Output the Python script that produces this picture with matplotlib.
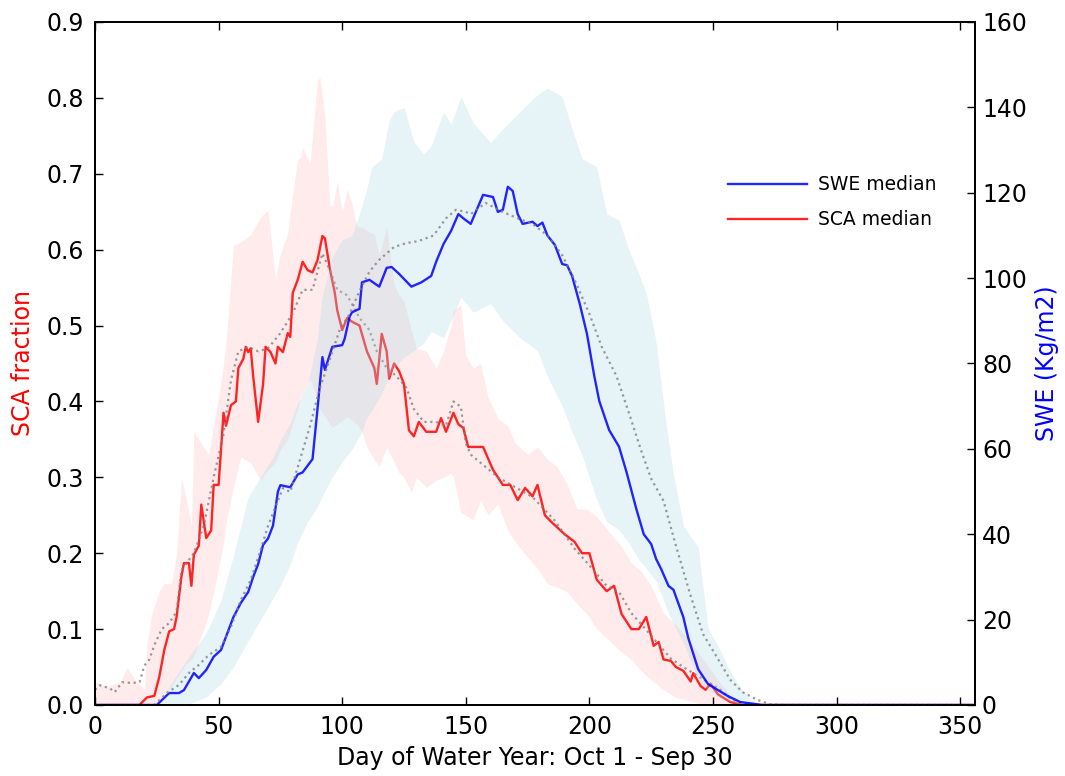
import numpy as np
import matplotlib
matplotlib.use('Agg')
import matplotlib.pyplot as plt


# SCA median (left axis)
sca_days = [0, 18, 21, 24, 26, 28, 30, 32, 33, 35,
            36, 38, 39, 40, 42, 43, 45, 47, 48, 50,
            52, 53, 55, 57, 58, 60, 61, 62, 63, 64,
            66, 68, 69, 71, 73, 74, 76, 78, 79, 80,
            82, 84, 86, 88, 90, 92, 93, 95, 97, 98,
            100, 102, 104, 107, 110, 113, 114, 116, 118, 119,
            121, 123, 125, 127, 129, 131, 134, 138, 140, 142,
            145, 147, 149, 151, 154, 157, 161, 165, 168, 171,
            174, 177, 179, 182, 185, 190, 194, 197, 200, 203,
            207, 210, 213, 217, 220, 223, 226, 228, 230, 233,
            235, 238, 241, 242, 245, 247, 249, 252, 257, 262,
            356]
sca_median = [0, 0, 0.01, 0.012, 0.037, 0.072, 0.097, 0.10, 0.116, 0.17,
              0.187, 0.187, 0.157, 0.198, 0.21, 0.264, 0.22, 0.23, 0.29, 0.29,
              0.385, 0.368, 0.395, 0.40, 0.444, 0.456, 0.472, 0.465, 0.47, 0.433,
              0.373, 0.423, 0.472, 0.465, 0.45, 0.472, 0.465, 0.49, 0.485, 0.543,
              0.56, 0.584, 0.573, 0.57, 0.586, 0.618, 0.615, 0.575, 0.543, 0.52,
              0.494, 0.51, 0.505, 0.50, 0.466, 0.444, 0.423, 0.489, 0.466, 0.43,
              0.45, 0.44, 0.423, 0.362, 0.354, 0.373, 0.36, 0.36, 0.378, 0.36,
              0.385, 0.37, 0.365, 0.34, 0.34, 0.34, 0.31, 0.29, 0.29, 0.27,
              0.286, 0.275, 0.29, 0.25, 0.24, 0.225, 0.215, 0.20, 0.20, 0.165,
              0.15, 0.157, 0.12, 0.10, 0.10, 0.116, 0.078, 0.083, 0.06, 0.058,
              0.05, 0.045, 0.031, 0.042, 0.025, 0.02, 0.028, 0.014, 0.004, 0,
              0]

# SCA mean (dotted)
sca_mean_days = [0, 2, 6, 8, 11, 15, 18, 20, 22, 24,
                 27, 30, 33, 35, 37, 40, 44, 48, 52, 55,
                 58, 62, 66, 70, 75, 80, 84, 88, 92, 95,
                 98, 102, 107, 111, 114, 118, 122, 126, 129, 133,
                 138, 142, 145, 148, 150, 152, 163, 177, 186, 194,
                 200, 207, 212, 217, 223, 233, 238, 242, 248, 253,
                 258, 265, 356]
sca_mean = [0.02, 0.026, 0.022, 0.017, 0.03, 0.029, 0.03, 0.052, 0.06, 0.079,
            0.10, 0.108, 0.123, 0.178, 0.187, 0.20, 0.236, 0.30, 0.357, 0.428,
            0.466, 0.472, 0.466, 0.47, 0.49, 0.516, 0.547, 0.547, 0.595, 0.573,
            0.547, 0.54, 0.51, 0.494, 0.466, 0.444, 0.433, 0.418, 0.39, 0.373,
            0.373, 0.368, 0.40, 0.393, 0.345, 0.33, 0.30, 0.274, 0.243, 0.206,
            0.184, 0.157, 0.149, 0.121, 0.099, 0.061, 0.05, 0.042, 0.03, 0.02,
            0.006, 0, 0]

# SCA spread (shaded)
sca_band_days = [0, 5, 10, 13, 17, 20, 21, 23, 26, 28,
                 31, 33, 35, 37, 39, 40, 44, 46, 48, 50,
                 52, 53, 56, 59, 63, 67, 70, 73, 75, 78,
                 79, 82, 83, 84, 87, 90, 91, 93, 95, 96,
                 98, 100, 102, 104, 106, 108, 110, 113, 115, 118,
                 121, 123, 125, 128, 130, 134, 138, 141, 144, 145,
                 148, 150, 153, 156, 159, 163, 167, 170, 175, 179,
                 183, 187, 191, 195, 199, 203, 208, 213, 217, 221,
                 225, 230, 235, 241, 246, 252, 257, 262, 356]
sca_upper = [0.03, 0.025, 0.03, 0.049, 0.03, 0.02, 0.08, 0.12, 0.15, 0.16,
             0.16, 0.20, 0.30, 0.27, 0.236, 0.36, 0.34, 0.33, 0.37, 0.405,
             0.45, 0.477, 0.606, 0.61, 0.62, 0.643, 0.652, 0.56, 0.595, 0.622,
             0.65, 0.72, 0.72, 0.735, 0.714, 0.823, 0.827, 0.775, 0.66, 0.656,
             0.69, 0.65, 0.68, 0.66, 0.63, 0.63, 0.625, 0.62, 0.593, 0.63,
             0.553, 0.54, 0.532, 0.494, 0.47, 0.466, 0.444, 0.466, 0.50, 0.52,
             0.527, 0.46, 0.444, 0.45, 0.405, 0.378, 0.368, 0.345, 0.33, 0.34,
             0.324, 0.314, 0.291, 0.258, 0.258, 0.248, 0.228, 0.209, 0.187, 0.176,
             0.157, 0.121, 0.105, 0.083, 0.06, 0.033, 0.012, 0, 0]
sca_lower = [0, 0, 0, 0, 0, 0, 0, 0, 0.005, 0.015,
             0.025, 0.035, 0.045, 0.055, 0.06, 0.065, 0.10, 0.12, 0.148, 0.18,
             0.213, 0.24, 0.287, 0.327, 0.319, 0.296, 0.31, 0.32, 0.336, 0.35,
             0.362, 0.39, 0.406, 0.41, 0.43, 0.40, 0.39, 0.38, 0.37, 0.366,
             0.37, 0.375, 0.38, 0.375, 0.37, 0.36, 0.34, 0.323, 0.314, 0.34,
             0.32, 0.306, 0.30, 0.28, 0.30, 0.287, 0.296, 0.30, 0.306, 0.30,
             0.253, 0.25, 0.244, 0.27, 0.25, 0.265, 0.23, 0.215, 0.195, 0.18,
             0.16, 0.155, 0.149, 0.133, 0.12, 0.10, 0.085, 0.07, 0.06, 0.045,
             0.033, 0.02, 0.01, 0.005, 0, 0, 0, 0, 0]

# SWE median (right axis, Kg/m2)
swe_days = [0, 25, 30, 34, 36, 40, 42, 45, 48, 51,
            53, 56, 59, 62, 64, 66, 68, 70, 72, 74,
            75, 79, 82, 84, 88, 90, 92, 93, 96, 100,
            101, 103, 104, 107, 108, 111, 115, 118, 120, 123,
            128, 132, 136, 138, 141, 144, 147, 149, 152, 157,
            161, 163, 165, 167, 169, 171, 173, 177, 179, 181,
            183, 186, 189, 191, 193, 196, 199, 202, 204, 208,
            212, 215, 219, 222, 225, 227, 229, 232, 234, 238,
            240, 244, 248, 252, 256, 261, 270, 356]
swe_median = [0, 0, 2.8, 2.8, 3.5, 7.5, 6.3, 8.2, 11.3, 12.9,
              16, 20.6, 23.9, 26.5, 30, 33, 37.5, 39, 42, 50,
              51.5, 51, 54, 54.5, 57.6, 69.3, 81.5, 78.5, 83.9, 84.3,
              85.8, 91, 92, 92.8, 99, 99.6, 98, 102.4, 102.6, 101,
              98, 99, 100.5, 103.8, 108, 111, 115, 114, 112.7, 119.5,
              119, 115.5, 116, 121.4, 120.4, 115, 112.7, 113.2, 112.2, 113,
              110, 107.8, 103.3, 103, 100.5, 94.2, 87, 77, 71.2, 64.4,
              60.5, 54.6, 45.9, 40, 37.7, 34.2, 31.9, 27.9, 27, 20.6,
              15.7, 8.4, 4.9, 3.5, 2.1, 0.7, 0, 0]

# SWE mean (dotted)
swe_mean_days = [0, 24, 29, 34, 38, 42, 46, 51, 55, 59,
                 63, 67, 70, 76, 79, 83, 87, 91, 95, 99,
                 103, 107, 111, 115, 121, 126, 131, 137, 142, 146,
                 150, 152, 158, 165, 171, 177, 183, 189, 194, 200,
                 205, 211, 216, 221, 225, 230, 235, 241, 246, 252,
                 257, 262, 268, 273, 280, 356]
swe_mean = [0, 0, 2.8, 4.7, 7.5, 9.4, 11.7, 13.6, 18.3, 24.6,
            29.3, 36.3, 42, 50.8, 49.9, 57.6, 65.4, 74.3, 81, 87.9,
            91.6, 97, 101.5, 104.3, 107.3, 108.2, 108.7, 110, 114, 116,
            115.5, 115, 117.6, 115.5, 114, 112.7, 110, 105.4, 99.6, 91.6,
            83.9, 77, 68.4, 59.5, 53, 47.8, 37.3, 25.5, 16.6, 10.8,
            5.9, 3, 1.2, 0.2, 0, 0]

# SWE spread (shaded)
swe_band_days = [0, 25, 29, 37, 45, 51, 56, 59, 62, 67,
                 72, 75, 79, 82, 86, 90, 92, 96, 100, 104,
                 108, 110, 112, 116, 119, 121, 125, 129, 133, 136,
                 141, 144, 148, 153, 160, 165, 172, 179, 183, 189,
                 193, 197, 203, 207, 212, 216, 220, 223, 227, 231,
                 234, 238, 244, 248, 252, 256, 260, 265, 270, 356]
swe_upper = [0, 0, 3.5, 10.5, 16.9, 24.6, 35, 42, 48.7, 53.4,
             58, 62, 66, 70.7, 75, 86, 96, 105, 109, 110,
             117, 121, 126, 128, 137, 139, 140, 132, 129, 131,
             139, 136, 142.5, 136.4, 131.7, 135, 139, 143, 144.5, 142.5,
             135, 128, 126, 115, 113.6, 106.6, 101, 96.5, 85, 66,
             54, 42, 37, 18, 13.8, 9, 5, 1.2, 0, 0]
swe_lower = [0, 0, 0, 0, 1.9, 5, 8.9, 12, 15, 20,
             25, 28, 33, 38, 43, 46.4, 49, 53.4, 57, 60,
             64, 67.5, 69, 73, 77, 79, 81.5, 83, 84.8, 87.5,
             86, 90, 95.6, 92, 94, 90, 86, 83, 77, 70,
             64, 58.6, 48, 43, 41, 38, 34, 32, 29, 23,
             19, 14.5, 6, 3.5, 2, 1, 0.3, 0, 0, 0]


plt.rcParams['font.family'] = 'DejaVu Sans'

fig = plt.figure(figsize=(10.65, 7.76), dpi=100)
ax = fig.add_axes([0.0892, 0.0915, 0.8263, 0.8802])
ax2 = ax.twinx()

# snow covered area on the left axis
ax.fill_between(sca_band_days, sca_lower, sca_upper, color='red', alpha=0.08, linewidth=0)
sca_line, = ax.plot(sca_days, sca_median, color='red', alpha=0.85, linewidth=1.7, label='SCA median')
ax.plot(sca_mean_days, sca_mean, color='gray', linestyle=':', linewidth=1.6, alpha=0.8)

# snow water equivalent on the right axis
ax2.fill_between(swe_band_days, swe_lower, swe_upper, color='lightblue', alpha=0.3, linewidth=0)
swe_line, = ax2.plot(swe_days, swe_median, color='blue', alpha=0.85, linewidth=1.7, label='SWE median')
ax2.plot(swe_mean_days, swe_mean, color='gray', linestyle=':', linewidth=1.6, alpha=0.8)

ax.set_xlim(0, 356)
ax.set_ylim(0, 0.9)
ax2.set_ylim(0, 160)
ax.set_xticks(np.arange(0, 351, 50))
ax.set_yticks(np.arange(0, 0.91, 0.1))
ax.set_yticklabels(['%.1f' % v for v in np.arange(0, 0.91, 0.1)])
ax2.set_yticks(np.arange(0, 161, 20))

ax.tick_params(axis='x', direction='in', top=True, length=5.5, width=1, labelsize=17, pad=7)
ax.tick_params(axis='y', direction='in', length=5.5, width=1, labelsize=17, pad=8)
ax2.tick_params(axis='y', direction='in', length=5.5, width=1, labelsize=17, pad=5)
for a in (ax, ax2):
    for s in a.spines.values():
        s.set_linewidth(1.3)

ax.set_xlabel('Day of Water Year: Oct 1 - Sep 30', fontsize=17, labelpad=5)
ax.set_ylabel('SCA fraction', color='red', fontsize=17, labelpad=8)
ax2.set_ylabel('SWE (Kg/m2)', color='blue', fontsize=17, labelpad=6)

ax2.legend([swe_line, sca_line], ['SWE median', 'SCA median'], frameon=False,
           fontsize=13.5, loc='upper left', bbox_to_anchor=(0.70, 0.80),
           handlelength=4.2, handletextpad=0.6, labelspacing=0.85)

fig.savefig('out.png', dpi=100)
